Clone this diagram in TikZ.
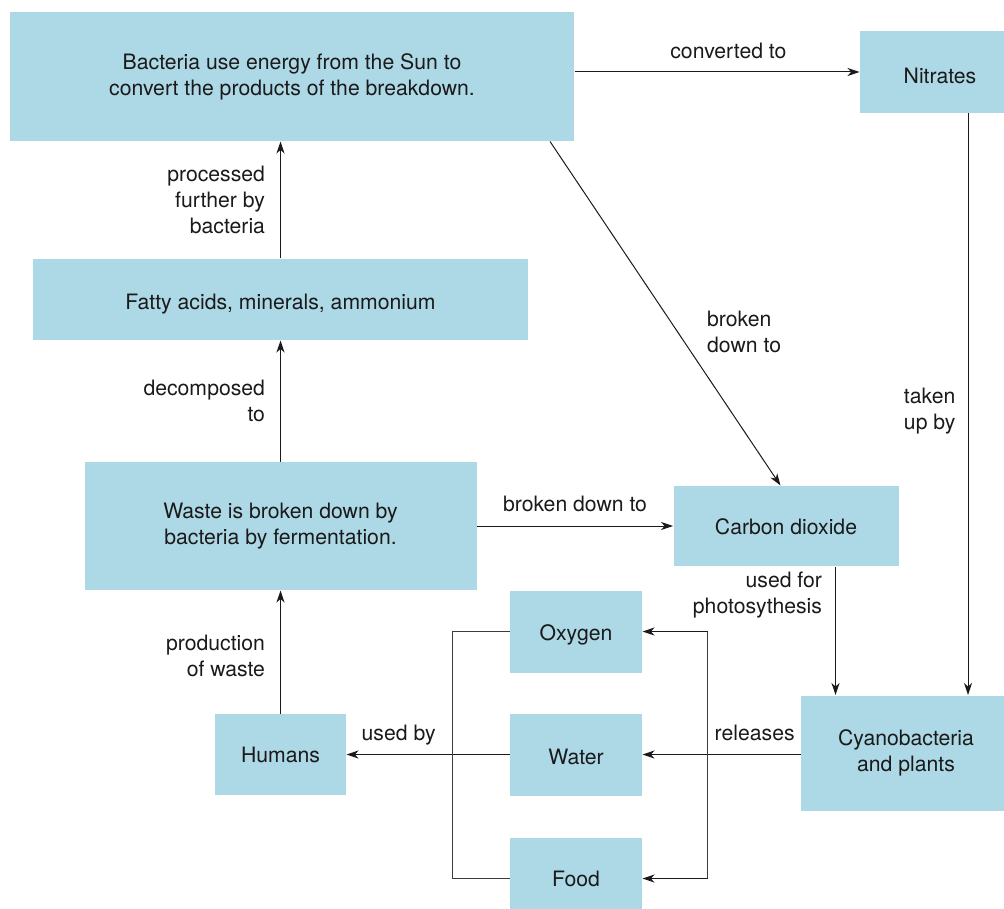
\documentclass[tikz,border=0pt]{standalone}
\usepackage{fontspec}
\setmainfont{TeX Gyre Heros}
\usetikzlibrary{arrows.meta, positioning}
\definecolor{boxfill}{HTML}{ADD8E6}
\definecolor{inkdark}{HTML}{1A1A1A}
\definecolor{linegray}{HTML}{3C3C3C}
\newcommand{\nudge}[2]{\raisebox{-#1}[\height][\depth]{#2}}

\begin{document}
\begin{tikzpicture}[
  font=\fontsize{10.6}{13}\selectfont,
  box/.style={fill=boxfill, inner sep=0pt, align=center, text=inkdark},
  lbl/.style={inner sep=0pt, text=inkdark},
  ->, >={Stealth[length=6pt, width=4pt, inset=1.8pt]}, line width=0.5pt, inkdark
]
\useasboundingbox (0,0) rectangle (502pt,-454pt);

\node[box, minimum width=282pt, minimum height=64.5pt] (bact) at (146pt,-38.25pt) {Bacteria use energy from the Sun to\\convert the products of the breakdown.};
\node[box, minimum width=80pt, minimum height=41pt, right=142.5pt of bact, yshift=2.25pt] (nitrates) {\nudge{2pt}{Nitrates}};
\node[box, minimum width=247.5pt, minimum height=40.5pt, below=58.5pt of bact, xshift=-5.75pt] (fatty) {\nudge{2.5pt}{Fatty acids, minerals, ammonium}};
\node[box, minimum width=196pt, minimum height=64pt, below=60.5pt of fatty] (waste) {Waste is broken down by\\bacteria by fermentation.};
\node[box, minimum width=65.5pt, minimum height=40.5pt, below=61.5pt of waste] (humans) {Humans};
\node[box, minimum width=112.5pt, minimum height=40pt, right=98pt of waste] (co2) {\nudge{0.5pt}{Carbon dioxide}};
\node[box, minimum width=66pt, minimum height=41pt, right=81.5pt of humans] (water) {\nudge{1pt}{Water}};
\node[box, minimum width=66pt, minimum height=41pt, above=20pt of water] (oxygen) {\nudge{1.5pt}{Oxygen}};
\node[box, minimum width=66pt, minimum height=41pt, below=20.5pt of water] (food) {Food};
\node[box, minimum width=105pt, minimum height=57.5pt, right=79pt of water, yshift=0.75pt] (cyano) {Cyanobacteria\\and plants};

\draw (fatty) -- node[lbl, left=7.5pt, align=right]{processed\\further by\\bacteria} (fatty |- bact.south);
\draw (waste) -- node[lbl, left=7.5pt, align=right]{decomposed\\to} (waste |- fatty.south);
\draw (humans) -- node[lbl, left=7.5pt, align=right, yshift=-2pt]{production\\of waste} (humans |- waste.south);
\draw (bact.east |- nitrates) -- node[lbl, above=6.5pt, pos=0.54]{converted to} (nitrates);
\draw (waste) -- node[lbl, above=7pt]{broken down to} (co2);
\draw ([xshift=129pt]bact.south) -- node[lbl, right=14.5pt, pos=0.554, align=left]{broken\\down to} ([xshift=-2.75pt]co2.north);
\draw ([xshift=14pt]nitrates.south) -- node[lbl, left=6pt, align=left, yshift=-3.5pt]{taken\\up by} ([xshift=14pt]nitrates.south |- cyano.north);
\draw ([xshift=24.75pt]co2.south) -- node[lbl, left=6.5pt, pos=0.225, align=right]{used for\\photosythesis} ([xshift=24.75pt]co2.south |- cyano.north);

% releases branch
\draw (cyano.west |- water) -- node[lbl, above=6.5pt, pos=0.29]{releases} (water);
\coordinate (rjoin) at ([xshift=32.5pt]water.east);
\draw[-, linegray] (rjoin |- oxygen) -- (rjoin |- food);
\draw (rjoin |- oxygen) -- (oxygen);
\draw (rjoin |- food) -- (food);

% used by branch
\draw (water) -- node[lbl, above=4.5pt, pos=0.68]{used by} (humans);
\coordinate (ljoin) at ([xshift=-28.5pt]water.west);
\draw[-, linegray] (oxygen) -| (ljoin) |- (food);
\end{tikzpicture}
\end{document}
